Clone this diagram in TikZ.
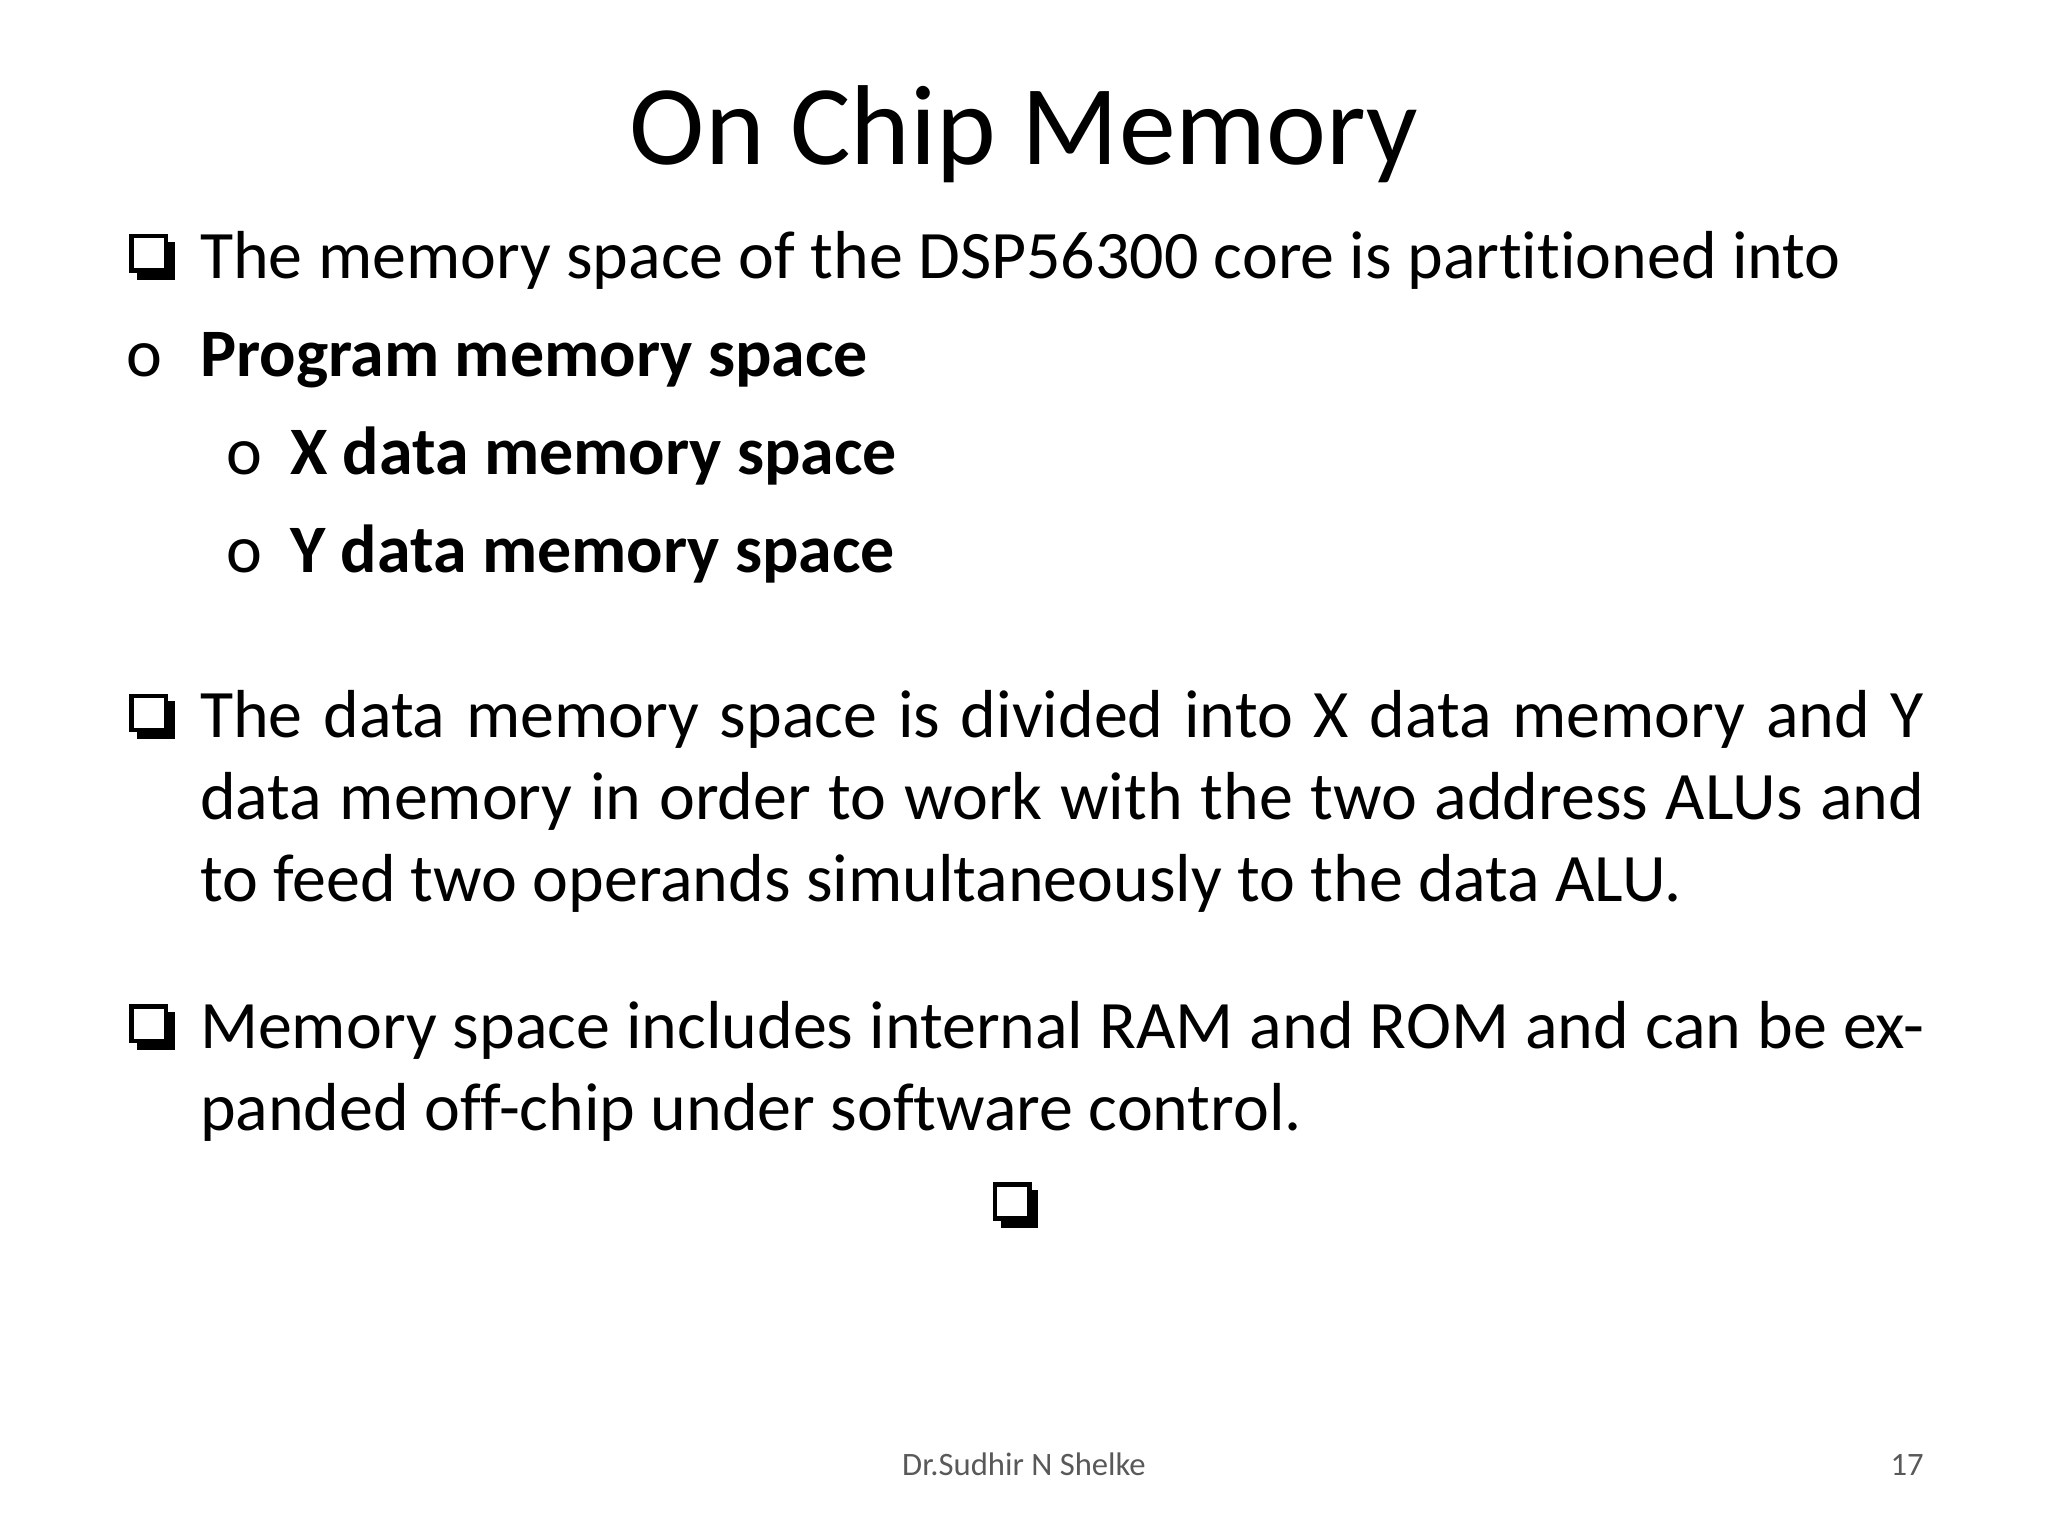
\documentclass[tikz,border=0pt]{standalone}
\usepackage{fontspec}
\setmainfont[Ligatures=NoCommon]{Carlito}
\begin{document}
\begin{tikzpicture}[x=1pt,y=-1pt,
  txt/.style={anchor=base west,inner sep=0pt,font=\fontsize{52}{62.5}\selectfont},
  par/.style={txt,text width=1320pt,align=justify},
  qsq/.pic={\fill (6,28) rectangle (35,35); \fill (28,6) rectangle (35,35);
    \draw[line width=3.5pt] (1.75,1.75) rectangle (28,28);}]
\fill[white] (0,0) rectangle (1568,1176);
\useasboundingbox (0,0) rectangle (1568,1176);
\node[anchor=base,inner sep=0pt,font=\fontsize{87}{100}\selectfont] (title) at (784,126) {On Chip Memory};
\pic at (99,179) {qsq};
\node[txt] (l1) at (153,213) {The memory space of the DSP56300 core is partitioned into};
\node[txt] (o1) at (97,288) {o};
\node[txt,font=\fontsize{52}{62.5}\selectfont\bfseries] (l2) at (153,288) {Program memory space};
\node[txt] (o2) at (173,363) {o};
\node[txt,font=\fontsize{52}{62.5}\selectfont\bfseries] (l3) at (222,363) {X data memory space};
\node[txt] (o3) at (173,438) {o};
\node[txt,font=\fontsize{52}{62.5}\selectfont\bfseries] (l4) at (222,438) {Y data memory space};
\pic at (99,531) {qsq};
\node[par] (p2) at (153,565) {The data memory space is divided into X data memory and Y data memory in order to work with the two address ALUs and to feed two operands simultaneously to the data ALU.};
\pic at (99,769) {qsq};
\node[par] (p3) at (153,803) {Memory space includes internal RAM and ROM and can be expanded off-chip under software control.};
\pic at (760,905) {qsq};
\node[anchor=base,inner sep=0pt,font=\fontsize{25}{30}\selectfont,text=black!65] (f) at (784,1130) {Dr.Sudhir N Shelke};
\node[anchor=base east,inner sep=0pt,font=\fontsize{25}{30}\selectfont,text=black!65] (pg) at (1473,1130) {17};
\end{tikzpicture}
\end{document}
